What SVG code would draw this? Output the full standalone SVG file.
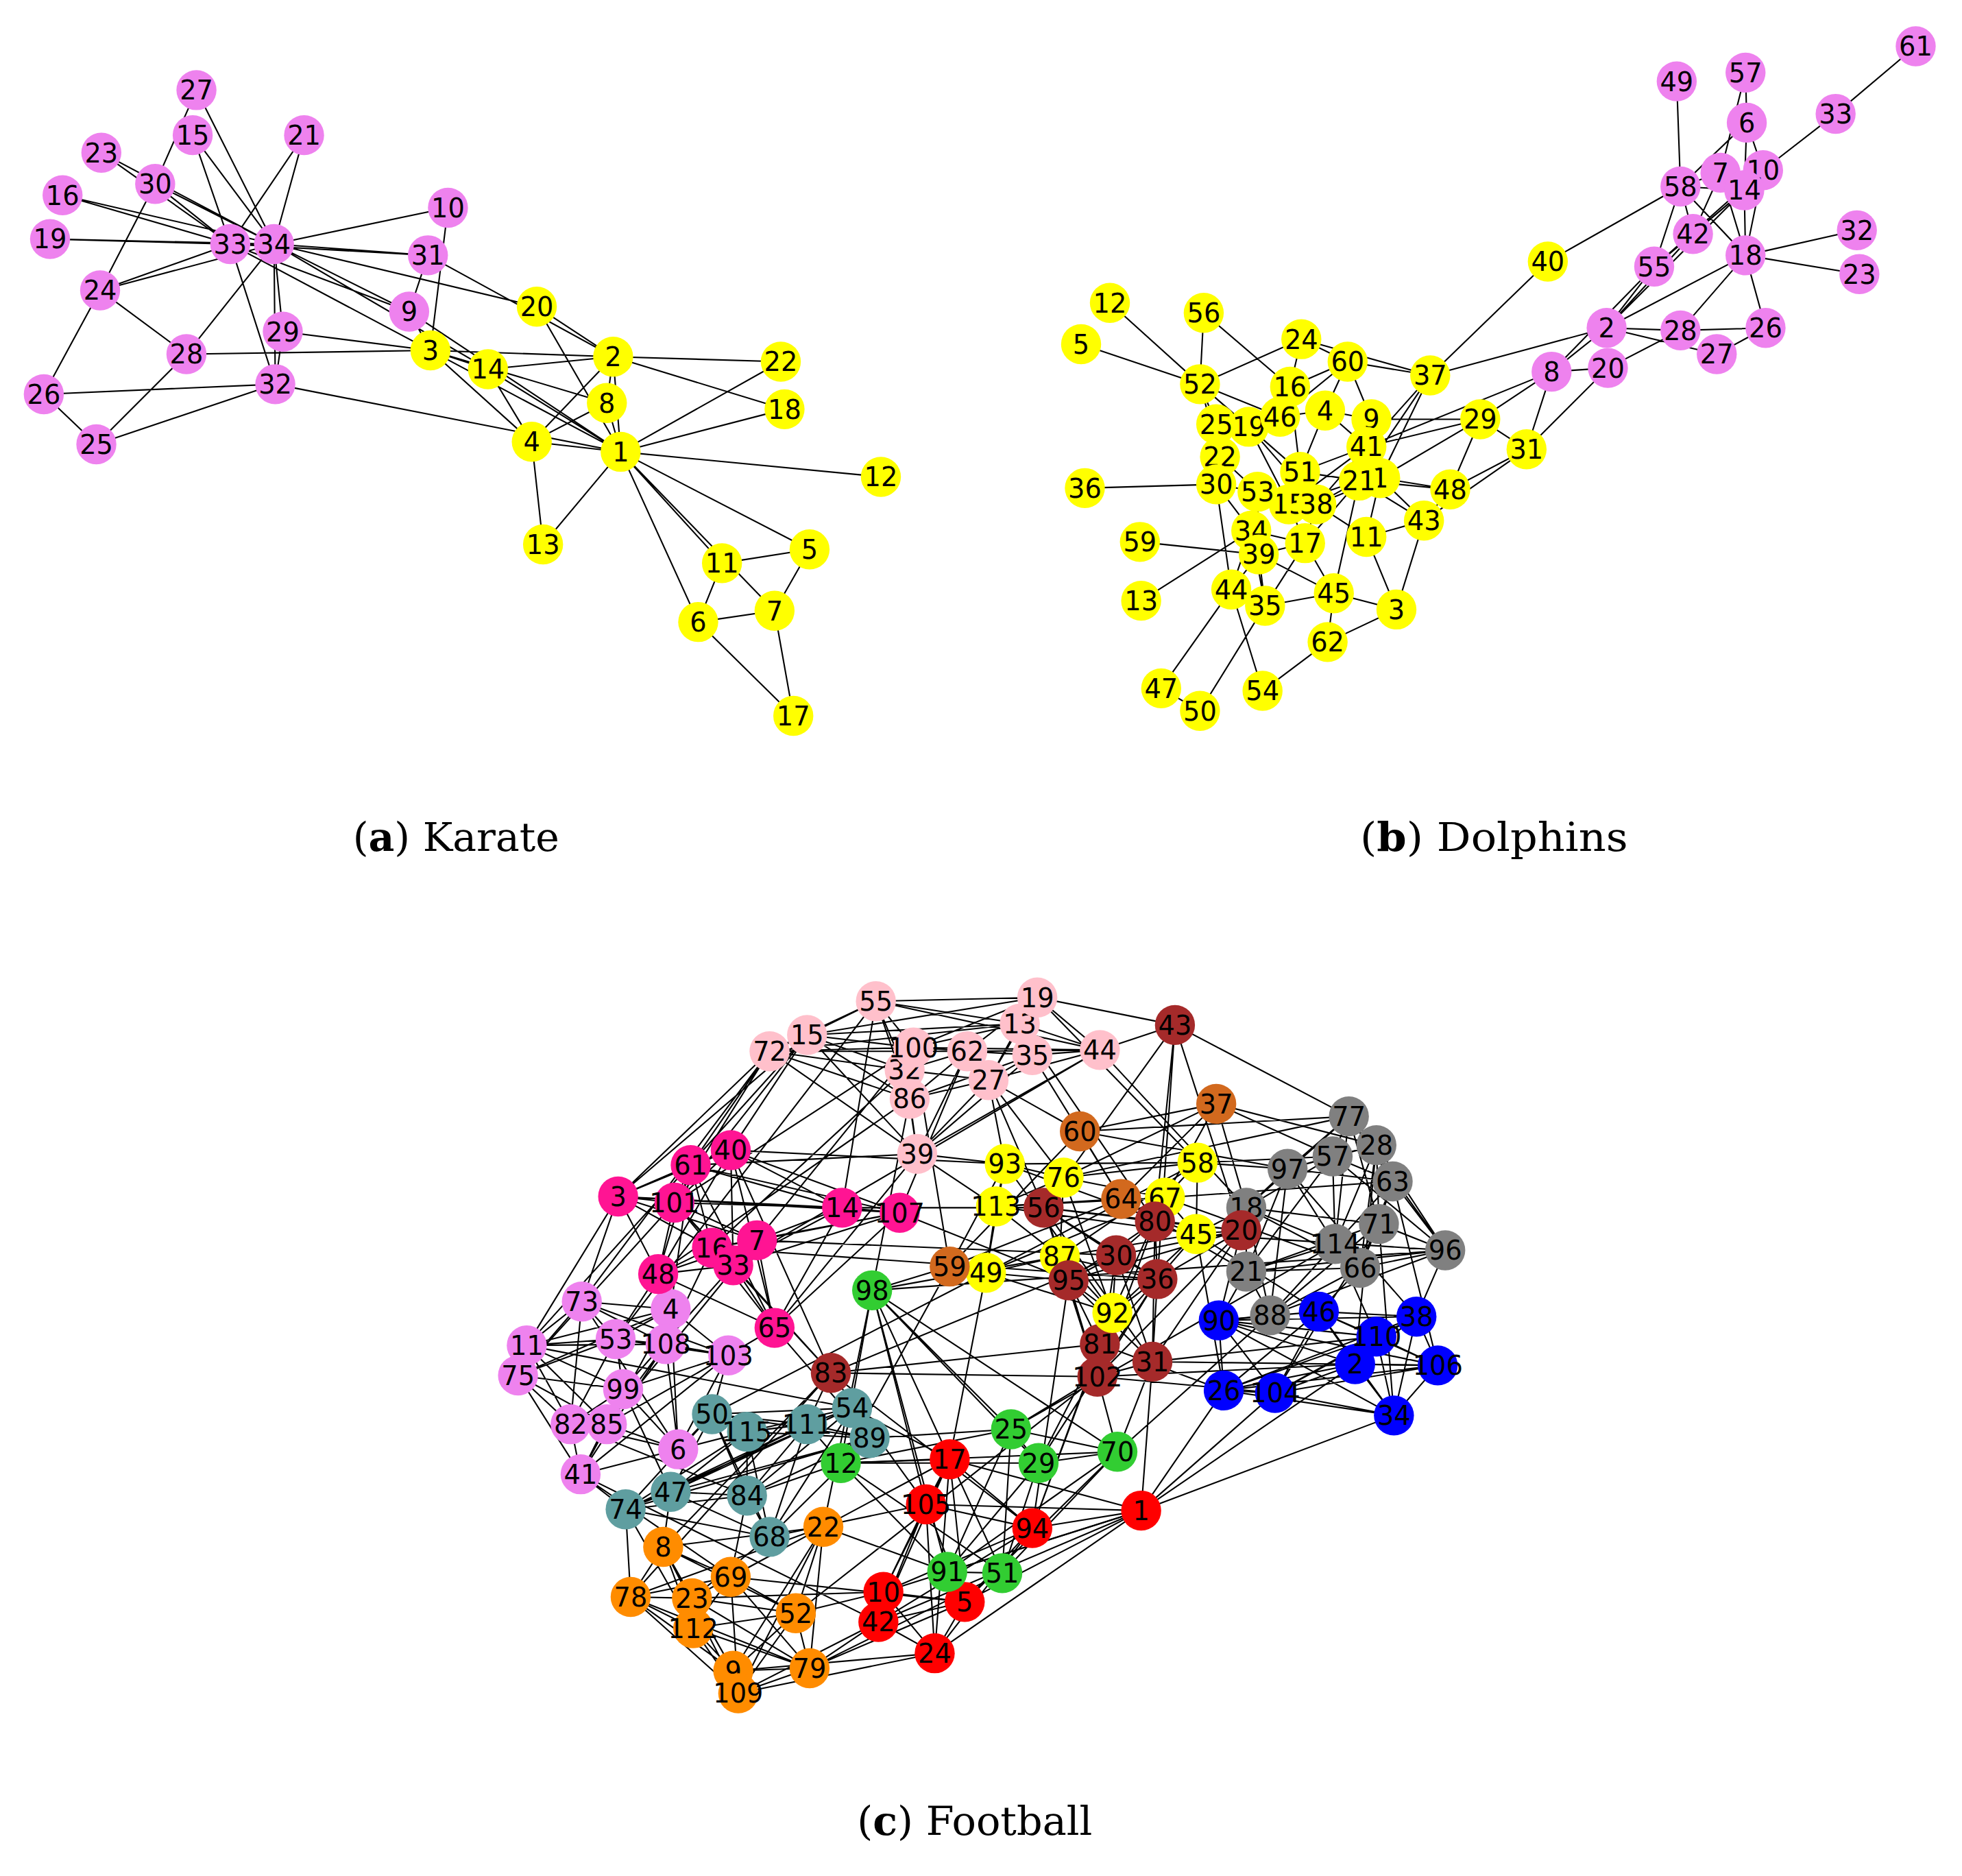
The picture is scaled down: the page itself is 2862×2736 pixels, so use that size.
<svg xmlns="http://www.w3.org/2000/svg" width="2862" height="2736" viewBox="0 0 2862 2736">
<style>
.e{fill:none;stroke:#000;stroke-width:1.15;stroke-linejoin:round}
.n text{font-family:"DejaVu Sans",Verdana,sans-serif;font-size:21px;text-anchor:middle;fill:#000}
.y circle{fill:#FFFF00}.v circle{fill:#EE82EE}.pk circle{fill:#FFC0CB}.br circle{fill:#A52A2A}.ch circle{fill:#D2691E}.gr circle{fill:#808080}.bl circle{fill:#0000FF}.gn circle{fill:#32CD32}.rd circle{fill:#FF0000}.or circle{fill:#FF8C00}.tl circle{fill:#5F9EA0}.dp circle{fill:#FF1493}
.cap{font-family:"DejaVu Serif","Liberation Serif",serif;font-size:32px;fill:#000}
</style>
<rect width="2862" height="2736" fill="#fff"/>
<g transform="scale(1.82526)">
<g id="connectors">
<path id="karate-edges" class="e" d="M496 361L490 285M496 361L344 280M496 361L425 353M496 361L647 439M496 361L558 497M496 361L619 488M496 361L485 322M496 361L327 249M496 361L577 450M496 361L704 381M496 361L434 435M496 361L390 295M496 361L627 327M496 361L429 245M496 361L624 289M496 361L220 307M490 285L344 280M490 285L425 353M490 285L485 322M490 285L390 295M490 285L627 327M490 285L429 245M490 285L624 289M490 285L342 204M344 280L425 353M344 280L485 322M344 280L327 249M344 280L358 166M344 280L390 295M344 280L149 283M344 280L226 265M344 280L184 195M425 353L485 322M425 353L434 435M425 353L390 295M647 439L619 488M647 439L577 450M558 497L619 488M558 497L577 450M558 497L634 572M619 488L634 572M327 249L342 204M327 249L184 195M327 249L219 195M358 166L219 195M390 295L219 195M154 108L184 195M154 108L219 195M50 156L184 195M50 156L219 195M40 191L184 195M40 191L219 195M429 245L219 195M243 108L184 195M243 108L219 195M81 122L184 195M81 122L219 195M80 232L35 315M80 232L149 283M80 232L124 147M80 232L184 195M80 232L219 195M77 355L35 315M77 355L149 283M77 355L220 307M35 315L220 307M157 72L124 147M157 72L219 195M149 283L219 195M226 265L220 307M226 265L219 195M124 147L184 195M124 147L219 195M342 204L184 195M342 204L219 195M220 307L184 195M220 307L219 195M184 195L219 195"/>
<path id="dolphins-edges" class="e" d="M1531 37L1467 91M1467 91L1409 136M1340 65L1343 149M1395 58L1396 98M1395 58L1375 138M1396 98L1394 152M1396 98L1409 136M1396 98L1343 149M1343 149L1375 138M1343 149L1394 152M1343 149L1353 187M1343 149L1322 213M1343 149L1395 204M1343 149L1237 209M1375 138L1353 187M1394 152L1353 187M1394 152L1322 213M1409 136L1322 213M1353 187L1322 213M1394 152L1395 204M1409 136L1395 204M1375 138L1395 204M1395 204L1484 184M1395 204L1486 219M1395 204L1411 262M1395 204L1343 264M1395 204L1284 262M1322 213L1284 262M1353 187L1284 262M1394 152L1284 262M1322 213L1240 297M1343 264L1411 262M1284 262L1343 264M1284 262L1372 283M1411 262L1372 283M1285 294L1343 264M1240 297L1285 294M1240 297L1284 262M1284 262L1143 300M1240 297L1183 335M1240 297L1220 359M1285 294L1220 359M1240 297L1092 357M1237 209L1143 300M1077 289L1143 300M1040 271L1143 300M1143 300L1092 357M1143 300L1086 384M1103 382L1143 300M1077 289L1031 309M1077 289L1023 333M1077 289L1059 328M1077 289L1096 335M1077 289L1040 271M1040 271L959 307M1040 271L1031 309M962 250L959 307M962 250L1031 309M887 242L959 307M864 275L959 307M959 307L972 339M959 307L1023 333M959 307L1039 377M959 307L975 365M1031 309L1023 333M1031 309L1039 377M1059 328L1023 333M1059 328L1096 335M1059 328L1092 357M1059 328L1039 377M1096 335L1092 357M1096 335L1183 335M1096 335L1086 384M1092 357L1086 384M1092 357L1052 403M1092 357L1030 403M1092 357L1039 377M1092 357L1183 335M998 341L1039 377M998 341L1030 403M998 341L1052 403M972 339L975 365M975 365L1005 393M975 365L972 387M972 387L867 390M972 387L1005 393M972 387L984 471M972 387L1000 424M1005 393L1030 403M1005 393L1006 443M1039 377L1086 384M1039 377L1052 403M1052 403L1086 384M1052 403L1103 382M1030 403L1086 384M1030 403L1043 434M1000 424L1043 434M1000 424L1006 443M1006 443L1043 434M1006 443L911 433M1006 443L1066 474M1006 443L1011 484M1006 443L984 471M1000 424L912 480M1000 424L984 471M984 471L928 550M984 471L1009 552M1011 484L959 568M1011 484L1066 474M1011 484L1043 434M1066 474L1043 434M1066 474L1116 487M1066 474L1061 513M1066 474L1086 384M1061 513L1116 487M1061 513L1009 552M928 550L959 568M1092 429L1052 403M1092 429L1103 382M1092 429L1138 416M1092 429L1116 487M1138 416L1159 391M1138 416L1103 382M1138 416L1086 384M1138 416L1116 487M1159 391L1103 382M1159 391L1086 384M1159 391L1220 359M1138 416L1220 359M1183 335L1103 382M1183 335L1159 391M1183 335L1220 359M1043 434L1086 384M1043 434L1052 403M1011 484L1000 424M998 341L1023 333M972 339L998 341"/>
<g id="football-edges">
<path class="e" d="M615 840L645 827L700 800L730 837L815 818L829 797L879 839L825 843L790 863L773 840L733 922L727 878L723 855ZM615 840L700 800L815 818L879 839L790 863L733 922L723 855L645 827L730 837L829 797L825 843L773 840L727 878ZM615 840L730 837L879 839L773 840L723 855L700 800L829 797L790 863L727 878L645 827L815 818L825 843L733 922ZM615 840L815 818L790 863L723 855L730 837L825 843L727 878L700 800L879 839L733 922L645 827L829 797L773 840Z"/>
<path class="e" d="M834 965L923 976L992 983L925 1022L921 1088L877 1100L854 1023L892 1003ZM834 965L992 983L921 1088L854 1023ZM923 976L925 1022L877 1100L892 1003ZM834 965L925 1022L854 1023L923 976L921 1088L892 1003L992 983L877 1100ZM834 965L921 1088M923 976L877 1100M992 983L854 1023M925 1022L892 1003M879 1074L877 1100M879 1074L854 1023M879 1074L925 1022M664 1097L877 1100"/>
<path class="e" d="M803 930L850 941L957 929L931 957L956 986L889 1049L847 1004L788 1017L796 964ZM803 930L957 929L956 986L847 1004L796 964L850 941L931 957L889 1049L788 1017ZM803 930L956 986L796 964L931 957L788 1017L957 929L847 1004L850 941L889 1049Z"/>
<path class="e" d="M1078 892L1100 915L1113 944L1155 999L1102 978L1087 1013L1015 1051L996 1016L996 965L1067 994L1029 934L1065 924ZM1078 892L1113 944L1102 978L1015 1051L996 965L1029 934ZM1100 915L1155 999L1087 1013L996 1016L1067 994L1065 924ZM1078 892L1155 999L1015 1051L1067 994ZM1100 915L1102 978L996 1016L1029 934ZM1113 944L1087 1013L996 965L1065 924ZM1078 892L1102 978L996 965ZM1100 915L1087 1013L1067 994ZM1113 944L1015 1051L1029 934ZM1155 999L996 1016L1065 924Z"/>
<path class="e" d="M974 1055L1054 1048L1100 1068L1132 1052L1149 1091L1114 1131L1083 1090L1019 1113L978 1111ZM974 1055L1100 1068L1149 1091L1083 1090L978 1111L1054 1048L1132 1052L1114 1131L1019 1113ZM974 1055L1132 1052L1083 1090ZM1054 1048L1149 1091L1019 1113ZM1100 1068L1114 1131L978 1111ZM974 1055L1149 1091L978 1111L1132 1052L1019 1113L1100 1068L1083 1090L1054 1048L1114 1131Z"/>
<path class="e" d="M697 1031L808 1142L893 1160L830 1169L801 1257L757 1256L672 1169ZM697 1031L893 1160L801 1257L672 1169L808 1142L830 1169L757 1256ZM697 1031L830 1169L672 1169L893 1160L757 1256L808 1142L801 1257Z"/>
<path class="e" d="M759 1166L912 1207L825 1221L771 1280L747 1321L702 1296L706 1272L740 1202ZM759 1166L825 1221L747 1321L706 1272ZM912 1207L771 1280L702 1296L740 1202ZM759 1166L771 1280L706 1272L912 1207L747 1321L740 1202L825 1221L702 1296ZM759 1166L747 1321M912 1207L702 1296M825 1221L706 1272M771 1280L740 1202"/>
<path class="e" d="M658 1220L636 1289L647 1333L590 1353L586 1335L554 1301L504 1276L530 1236L553 1277L584 1260ZM658 1220L647 1333L586 1335L504 1276L553 1277ZM636 1289L590 1353L554 1301L530 1236L584 1260ZM658 1220L590 1353L504 1276L584 1260L647 1333L554 1301L553 1277L636 1289L586 1335L530 1236ZM658 1220L586 1335L553 1277L647 1333L504 1276ZM636 1289L554 1301L584 1260L590 1353L530 1236Z"/>
<path class="e" d="M569 1130L597 1144L645 1138L681 1125L695 1149L615 1228L597 1195L500 1206L536 1192ZM569 1130L645 1138L695 1149L597 1195L536 1192L597 1144L681 1125L615 1228L500 1206ZM569 1130L681 1125L597 1195ZM597 1144L695 1149L500 1206ZM645 1138L615 1228L536 1192ZM569 1130L695 1149L536 1192L681 1125L500 1206L645 1138L597 1195L597 1144L615 1228Z"/>
<path class="e" d="M465 1040L536 1046L532 1074L582 1083L542 1158L464 1178L485 1138L498 1110L456 1138L414 1099L421 1075L492 1070ZM465 1040L532 1074L542 1158L485 1138L456 1138L421 1075ZM536 1046L582 1083L464 1178L498 1110L414 1099L492 1070ZM465 1040L582 1083L485 1138L414 1099ZM536 1046L542 1158L498 1110L421 1075ZM532 1074L464 1178L456 1138L492 1070ZM465 1040L542 1158L456 1138ZM536 1046L464 1178L414 1099ZM532 1074L485 1138L421 1075ZM582 1083L498 1110L492 1070Z"/>
<path class="e" d="M494 956L552 931L584 919L673 965L719 969L619 1061L586 1011L605 991L569 997L526 1018L539 961ZM494 956L584 919L719 969L586 1011L569 997L539 961L552 931L673 965L619 1061L605 991L526 1018ZM494 956L673 965L586 1011L526 1018L552 931L719 969L605 991L539 961L584 919L619 1061L569 997ZM494 956L719 969L569 997L552 931L619 1061L526 1018L584 919L586 1011L539 961L673 965L605 991Z"/>
<path class="e" d="M615 840L494 956M615 840L552 931M615 840L539 961M645 827L584 919M645 827L539 961M700 800L673 965M730 837L605 991M723 855L569 997M727 878L526 1018M733 922L619 1061M773 840L719 969M879 839L586 1011M615 840L465 1040M645 827L421 1075M700 800L492 1070M733 922L803 930M733 922L796 964M790 863L834 965M879 839L939 819M829 797L939 819M815 818L923 976M727 878L697 1031M730 837L759 1012M773 840L850 941M790 863L863 904M825 843L896 958M879 839L996 965M829 797L957 929M939 819L834 965M939 819L923 976M939 819L925 1022M939 819L992 983M877 1100L1083 1090M877 1100L636 1289M921 1088L912 1207M879 1074L889 1049M879 1074L825 1221M889 1049L825 1221M879 1074L664 1097M664 1097L586 1011M664 1097L584 919M664 1097L539 961M664 1097L504 1276M664 1097L530 1236M664 1097L825 1221M664 1097L892 1003M796 964L896 958M803 930L759 1012M850 941L1078 892M788 1017L569 1130M957 929L1065 924M931 957L1087 1013M956 986L1054 1048M956 986L978 1111M889 1049L892 1003M850 941L972 882M863 904L896 958M863 904L759 1012M863 904L972 882M896 958L972 882M759 1012L896 958M863 904L1029 934M896 958L996 1016M972 882L931 957M759 1012L672 1169M759 1012L697 1031M1100 915L1083 1090M1029 934L1132 1052M1102 978L1019 1113M1155 999L697 1031M1067 994L808 1142M1083 1090L912 1207M1114 1131L912 1207M978 1111L912 1207M1019 1113L912 1207M974 1055L992 983M1149 1091L921 1088M893 1160L771 1280M757 1256L912 1207M801 1257L647 1333M672 1169L597 1195M702 1296L464 1178M747 1321L586 1335M706 1272L553 1277M500 1206L554 1301M465 1040L494 956M421 1075L494 956M414 1099L539 961M492 1070L526 1018M536 1046L552 931M532 1074L569 997M582 1083L619 1061M498 1110L586 1011M456 1138L597 1195M485 1138L605 991M542 1158L569 1130M464 1178L584 1260M421 1075L681 1125M673 965L834 965M719 969L854 1023M605 991L892 1003M569 997L925 1022M619 1061L695 1149M526 1018L532 1074M584 919L803 930M552 931L733 922M539 961L730 837M494 956L645 827M697 1031L847 1004M697 1031L740 1202M697 1031L658 1220M672 1169L645 1138M672 1169L759 1166M808 1142L877 1100M830 1169L879 1074M893 1160L921 1088M893 1160L877 1100M893 1160L1015 1051M830 1169L925 1022M825 1221L854 1023M759 1166L788 1017M740 1202L664 1097M771 1280L584 1260M706 1272L636 1289M702 1296L647 1333M747 1321L590 1353M647 1333L771 1280M590 1353L702 1296M658 1220L759 1166M658 1220L757 1256M615 1228L740 1202M681 1125L759 1166M695 1149L808 1142M645 1138L664 1097M569 1130L582 1083M597 1144L542 1158M536 1192L498 1110M500 1206L464 1178M530 1236L536 1192M504 1276L500 1206M553 1277L615 1228M584 1260L597 1195M796 964L834 965M803 930L790 863M788 1017L854 1023M847 1004L925 1022M889 1049L925 1022M956 986L996 965M957 929L1029 934M931 957L1113 944M1065 924L972 882M1015 1051L974 1055M996 1016L974 1055M996 965L972 882M1155 999L1132 1052M1113 944L1149 1091M1087 1013L1054 1048M1067 994L1100 1068M1102 978L1114 1131M1078 892L939 819M1100 915L972 882M992 983L956 986M834 965L850 941M923 976L931 957M854 1023L889 1049M925 1022L956 986M921 1088L1100 1068M877 1100L1019 1113M879 1074L978 1111M1078 892L863 904M1155 999L956 986"/>
</g>
</g>
<g id="karate-nodes">
<g id="k1" class="n y" transform="translate(496 361)"><circle r="16"/><text y="7.6">1</text></g>
<g id="k2" class="n y" transform="translate(490 285)"><circle r="16"/><text y="7.6">2</text></g>
<g id="k3" class="n y" transform="translate(344 280)"><circle r="16"/><text y="7.6">3</text></g>
<g id="k4" class="n y" transform="translate(425 353)"><circle r="16"/><text y="7.6">4</text></g>
<g id="k5" class="n y" transform="translate(647 439)"><circle r="16"/><text y="7.6">5</text></g>
<g id="k6" class="n y" transform="translate(558 497)"><circle r="16"/><text y="7.6">6</text></g>
<g id="k7" class="n y" transform="translate(619 488)"><circle r="16"/><text y="7.6">7</text></g>
<g id="k8" class="n y" transform="translate(485 322)"><circle r="16"/><text y="7.6">8</text></g>
<g id="k9" class="n v" transform="translate(327 249)"><circle r="16"/><text y="7.6">9</text></g>
<g id="k10" class="n v" transform="translate(358 166)"><circle r="16"/><text y="7.6">10</text></g>
<g id="k11" class="n y" transform="translate(577 450)"><circle r="16"/><text y="7.6">11</text></g>
<g id="k12" class="n y" transform="translate(704 381)"><circle r="16"/><text y="7.6">12</text></g>
<g id="k13" class="n y" transform="translate(434 435)"><circle r="16"/><text y="7.6">13</text></g>
<g id="k14" class="n y" transform="translate(390 295)"><circle r="16"/><text y="7.6">14</text></g>
<g id="k15" class="n v" transform="translate(154 108)"><circle r="16"/><text y="7.6">15</text></g>
<g id="k16" class="n v" transform="translate(50 156)"><circle r="16"/><text y="7.6">16</text></g>
<g id="k17" class="n y" transform="translate(634 572)"><circle r="16"/><text y="7.6">17</text></g>
<g id="k18" class="n y" transform="translate(627 327)"><circle r="16"/><text y="7.6">18</text></g>
<g id="k19" class="n v" transform="translate(40 191)"><circle r="16"/><text y="7.6">19</text></g>
<g id="k20" class="n y" transform="translate(429 245)"><circle r="16"/><text y="7.6">20</text></g>
<g id="k21" class="n v" transform="translate(243 108)"><circle r="16"/><text y="7.6">21</text></g>
<g id="k22" class="n y" transform="translate(624 289)"><circle r="16"/><text y="7.6">22</text></g>
<g id="k23" class="n v" transform="translate(81 122)"><circle r="16"/><text y="7.6">23</text></g>
<g id="k24" class="n v" transform="translate(80 232)"><circle r="16"/><text y="7.6">24</text></g>
<g id="k25" class="n v" transform="translate(77 355)"><circle r="16"/><text y="7.6">25</text></g>
<g id="k26" class="n v" transform="translate(35 315)"><circle r="16"/><text y="7.6">26</text></g>
<g id="k27" class="n v" transform="translate(157 72)"><circle r="16"/><text y="7.6">27</text></g>
<g id="k28" class="n v" transform="translate(149 283)"><circle r="16"/><text y="7.6">28</text></g>
<g id="k29" class="n v" transform="translate(226 265)"><circle r="16"/><text y="7.6">29</text></g>
<g id="k30" class="n v" transform="translate(124 147)"><circle r="16"/><text y="7.6">30</text></g>
<g id="k31" class="n v" transform="translate(342 204)"><circle r="16"/><text y="7.6">31</text></g>
<g id="k32" class="n v" transform="translate(220 307)"><circle r="16"/><text y="7.6">32</text></g>
<g id="k33" class="n v" transform="translate(184 195)"><circle r="16"/><text y="7.6">33</text></g>
<g id="k34" class="n v" transform="translate(219 195)"><circle r="16"/><text y="7.6">34</text></g>
</g>
<g id="dolphins-nodes">
<g id="d1" class="n y" transform="translate(1103 382)"><circle r="16"/><text y="7.6">1</text></g>
<g id="d2" class="n v" transform="translate(1284 262)"><circle r="16"/><text y="7.6">2</text></g>
<g id="d3" class="n y" transform="translate(1116 487)"><circle r="16"/><text y="7.6">3</text></g>
<g id="d4" class="n y" transform="translate(1059 328)"><circle r="16"/><text y="7.6">4</text></g>
<g id="d5" class="n y" transform="translate(864 275)"><circle r="16"/><text y="7.6">5</text></g>
<g id="d6" class="n v" transform="translate(1396 98)"><circle r="16"/><text y="7.6">6</text></g>
<g id="d7" class="n v" transform="translate(1375 138)"><circle r="16"/><text y="7.6">7</text></g>
<g id="d8" class="n v" transform="translate(1240 297)"><circle r="16"/><text y="7.6">8</text></g>
<g id="d9" class="n y" transform="translate(1096 335)"><circle r="16"/><text y="7.6">9</text></g>
<g id="d10" class="n v" transform="translate(1409 136)"><circle r="16"/><text y="7.6">10</text></g>
<g id="d11" class="n y" transform="translate(1092 429)"><circle r="16"/><text y="7.6">11</text></g>
<g id="d12" class="n y" transform="translate(887 242)"><circle r="16"/><text y="7.6">12</text></g>
<g id="d13" class="n y" transform="translate(912 480)"><circle r="16"/><text y="7.6">13</text></g>
<g id="d14" class="n v" transform="translate(1394 152)"><circle r="16"/><text y="7.6">14</text></g>
<g id="d15" class="n y" transform="translate(1030 403)"><circle r="16"/><text y="7.6">15</text></g>
<g id="d16" class="n y" transform="translate(1031 309)"><circle r="16"/><text y="7.6">16</text></g>
<g id="d17" class="n y" transform="translate(1043 434)"><circle r="16"/><text y="7.6">17</text></g>
<g id="d18" class="n v" transform="translate(1395 204)"><circle r="16"/><text y="7.6">18</text></g>
<g id="d19" class="n y" transform="translate(998 341)"><circle r="16"/><text y="7.6">19</text></g>
<g id="d20" class="n v" transform="translate(1285 294)"><circle r="16"/><text y="7.6">20</text></g>
<g id="d21" class="n y" transform="translate(1086 384)"><circle r="16"/><text y="7.6">21</text></g>
<g id="d22" class="n y" transform="translate(975 365)"><circle r="16"/><text y="7.6">22</text></g>
<g id="d23" class="n v" transform="translate(1486 219)"><circle r="16"/><text y="7.6">23</text></g>
<g id="d24" class="n y" transform="translate(1040 271)"><circle r="16"/><text y="7.6">24</text></g>
<g id="d25" class="n y" transform="translate(972 339)"><circle r="16"/><text y="7.6">25</text></g>
<g id="d26" class="n v" transform="translate(1411 262)"><circle r="16"/><text y="7.6">26</text></g>
<g id="d27" class="n v" transform="translate(1372 283)"><circle r="16"/><text y="7.6">27</text></g>
<g id="d28" class="n v" transform="translate(1343 264)"><circle r="16"/><text y="7.6">28</text></g>
<g id="d29" class="n y" transform="translate(1183 335)"><circle r="16"/><text y="7.6">29</text></g>
<g id="d30" class="n y" transform="translate(972 387)"><circle r="16"/><text y="7.6">30</text></g>
<g id="d31" class="n y" transform="translate(1220 359)"><circle r="16"/><text y="7.6">31</text></g>
<g id="d32" class="n v" transform="translate(1484 184)"><circle r="16"/><text y="7.6">32</text></g>
<g id="d33" class="n v" transform="translate(1467 91)"><circle r="16"/><text y="7.6">33</text></g>
<g id="d34" class="n y" transform="translate(1000 424)"><circle r="16"/><text y="7.6">34</text></g>
<g id="d35" class="n y" transform="translate(1011 484)"><circle r="16"/><text y="7.6">35</text></g>
<g id="d36" class="n y" transform="translate(867 390)"><circle r="16"/><text y="7.6">36</text></g>
<g id="d37" class="n y" transform="translate(1143 300)"><circle r="16"/><text y="7.6">37</text></g>
<g id="d38" class="n y" transform="translate(1052 403)"><circle r="16"/><text y="7.6">38</text></g>
<g id="d39" class="n y" transform="translate(1006 443)"><circle r="16"/><text y="7.6">39</text></g>
<g id="d40" class="n y" transform="translate(1237 209)"><circle r="16"/><text y="7.6">40</text></g>
<g id="d41" class="n y" transform="translate(1092 357)"><circle r="16"/><text y="7.6">41</text></g>
<g id="d42" class="n v" transform="translate(1353 187)"><circle r="16"/><text y="7.6">42</text></g>
<g id="d43" class="n y" transform="translate(1138 416)"><circle r="16"/><text y="7.6">43</text></g>
<g id="d44" class="n y" transform="translate(984 471)"><circle r="16"/><text y="7.6">44</text></g>
<g id="d45" class="n y" transform="translate(1066 474)"><circle r="16"/><text y="7.6">45</text></g>
<g id="d46" class="n y" transform="translate(1023 333)"><circle r="16"/><text y="7.6">46</text></g>
<g id="d47" class="n y" transform="translate(928 550)"><circle r="16"/><text y="7.6">47</text></g>
<g id="d48" class="n y" transform="translate(1159 391)"><circle r="16"/><text y="7.6">48</text></g>
<g id="d49" class="n v" transform="translate(1340 65)"><circle r="16"/><text y="7.6">49</text></g>
<g id="d50" class="n y" transform="translate(959 568)"><circle r="16"/><text y="7.6">50</text></g>
<g id="d51" class="n y" transform="translate(1039 377)"><circle r="16"/><text y="7.6">51</text></g>
<g id="d52" class="n y" transform="translate(959 307)"><circle r="16"/><text y="7.6">52</text></g>
<g id="d53" class="n y" transform="translate(1005 393)"><circle r="16"/><text y="7.6">53</text></g>
<g id="d54" class="n y" transform="translate(1009 552)"><circle r="16"/><text y="7.6">54</text></g>
<g id="d55" class="n v" transform="translate(1322 213)"><circle r="16"/><text y="7.6">55</text></g>
<g id="d56" class="n y" transform="translate(962 250)"><circle r="16"/><text y="7.6">56</text></g>
<g id="d57" class="n v" transform="translate(1395 58)"><circle r="16"/><text y="7.6">57</text></g>
<g id="d58" class="n v" transform="translate(1343 149)"><circle r="16"/><text y="7.6">58</text></g>
<g id="d59" class="n y" transform="translate(911 433)"><circle r="16"/><text y="7.6">59</text></g>
<g id="d60" class="n y" transform="translate(1077 289)"><circle r="16"/><text y="7.6">60</text></g>
<g id="d61" class="n v" transform="translate(1531 37)"><circle r="16"/><text y="7.6">61</text></g>
<g id="d62" class="n y" transform="translate(1061 513)"><circle r="16"/><text y="7.6">62</text></g>
</g>
<g id="football-nodes">
<g id="f1" class="n rd" transform="translate(912 1207)"><circle r="16"/><text y="7.6">1</text></g>
<g id="f2" class="n bl" transform="translate(1083 1090)"><circle r="16"/><text y="7.6">2</text></g>
<g id="f3" class="n dp" transform="translate(494 956)"><circle r="16"/><text y="7.6">3</text></g>
<g id="f4" class="n v" transform="translate(536 1046)"><circle r="16"/><text y="7.6">4</text></g>
<g id="f5" class="n rd" transform="translate(771 1280)"><circle r="16"/><text y="7.6">5</text></g>
<g id="f6" class="n v" transform="translate(542 1158)"><circle r="16"/><text y="7.6">6</text></g>
<g id="f7" class="n dp" transform="translate(605 991)"><circle r="16"/><text y="7.6">7</text></g>
<g id="f8" class="n or" transform="translate(530 1236)"><circle r="16"/><text y="7.6">8</text></g>
<g id="f9" class="n or" transform="translate(586 1335)"><circle r="16"/><text y="7.6">9</text></g>
<g id="f10" class="n rd" transform="translate(706 1272)"><circle r="16"/><text y="7.6">10</text></g>
<g id="f11" class="n v" transform="translate(421 1075)"><circle r="16"/><text y="7.6">11</text></g>
<g id="f12" class="n gn" transform="translate(672 1169)"><circle r="16"/><text y="7.6">12</text></g>
<g id="f13" class="n pk" transform="translate(815 818)"><circle r="16"/><text y="7.6">13</text></g>
<g id="f14" class="n dp" transform="translate(673 965)"><circle r="16"/><text y="7.6">14</text></g>
<g id="f15" class="n pk" transform="translate(645 827)"><circle r="16"/><text y="7.6">15</text></g>
<g id="f16" class="n dp" transform="translate(569 997)"><circle r="16"/><text y="7.6">16</text></g>
<g id="f17" class="n rd" transform="translate(759 1166)"><circle r="16"/><text y="7.6">17</text></g>
<g id="f18" class="n gr" transform="translate(996 965)"><circle r="16"/><text y="7.6">18</text></g>
<g id="f19" class="n pk" transform="translate(829 797)"><circle r="16"/><text y="7.6">19</text></g>
<g id="f20" class="n br" transform="translate(992 983)"><circle r="16"/><text y="7.6">20</text></g>
<g id="f21" class="n gr" transform="translate(996 1016)"><circle r="16"/><text y="7.6">21</text></g>
<g id="f22" class="n or" transform="translate(658 1220)"><circle r="16"/><text y="7.6">22</text></g>
<g id="f23" class="n or" transform="translate(553 1277)"><circle r="16"/><text y="7.6">23</text></g>
<g id="f24" class="n rd" transform="translate(747 1321)"><circle r="16"/><text y="7.6">24</text></g>
<g id="f25" class="n gn" transform="translate(808 1142)"><circle r="16"/><text y="7.6">25</text></g>
<g id="f26" class="n bl" transform="translate(978 1111)"><circle r="16"/><text y="7.6">26</text></g>
<g id="f27" class="n pk" transform="translate(790 863)"><circle r="16"/><text y="7.6">27</text></g>
<g id="f28" class="n gr" transform="translate(1100 915)"><circle r="16"/><text y="7.6">28</text></g>
<g id="f29" class="n gn" transform="translate(830 1169)"><circle r="16"/><text y="7.6">29</text></g>
<g id="f30" class="n br" transform="translate(892 1003)"><circle r="16"/><text y="7.6">30</text></g>
<g id="f31" class="n br" transform="translate(921 1088)"><circle r="16"/><text y="7.6">31</text></g>
<g id="f32" class="n pk" transform="translate(723 855)"><circle r="16"/><text y="7.6">32</text></g>
<g id="f33" class="n dp" transform="translate(586 1011)"><circle r="16"/><text y="7.6">33</text></g>
<g id="f34" class="n bl" transform="translate(1114 1131)"><circle r="16"/><text y="7.6">34</text></g>
<g id="f35" class="n pk" transform="translate(825 843)"><circle r="16"/><text y="7.6">35</text></g>
<g id="f36" class="n br" transform="translate(925 1022)"><circle r="16"/><text y="7.6">36</text></g>
<g id="f37" class="n ch" transform="translate(972 882)"><circle r="16"/><text y="7.6">37</text></g>
<g id="f38" class="n bl" transform="translate(1132 1052)"><circle r="16"/><text y="7.6">38</text></g>
<g id="f39" class="n pk" transform="translate(733 922)"><circle r="16"/><text y="7.6">39</text></g>
<g id="f40" class="n dp" transform="translate(584 919)"><circle r="16"/><text y="7.6">40</text></g>
<g id="f41" class="n v" transform="translate(464 1178)"><circle r="16"/><text y="7.6">41</text></g>
<g id="f42" class="n rd" transform="translate(702 1296)"><circle r="16"/><text y="7.6">42</text></g>
<g id="f43" class="n br" transform="translate(939 819)"><circle r="16"/><text y="7.6">43</text></g>
<g id="f44" class="n pk" transform="translate(879 839)"><circle r="16"/><text y="7.6">44</text></g>
<g id="f45" class="n y" transform="translate(956 986)"><circle r="16"/><text y="7.6">45</text></g>
<g id="f46" class="n bl" transform="translate(1054 1048)"><circle r="16"/><text y="7.6">46</text></g>
<g id="f47" class="n tl" transform="translate(536 1192)"><circle r="16"/><text y="7.6">47</text></g>
<g id="f48" class="n dp" transform="translate(526 1018)"><circle r="16"/><text y="7.6">48</text></g>
<g id="f49" class="n y" transform="translate(788 1017)"><circle r="16"/><text y="7.6">49</text></g>
<g id="f50" class="n tl" transform="translate(569 1130)"><circle r="16"/><text y="7.6">50</text></g>
<g id="f51" class="n gn" transform="translate(801 1257)"><circle r="16"/><text y="7.6">51</text></g>
<g id="f52" class="n or" transform="translate(636 1289)"><circle r="16"/><text y="7.6">52</text></g>
<g id="f53" class="n v" transform="translate(492 1070)"><circle r="16"/><text y="7.6">53</text></g>
<g id="f54" class="n tl" transform="translate(681 1125)"><circle r="16"/><text y="7.6">54</text></g>
<g id="f55" class="n pk" transform="translate(700 800)"><circle r="16"/><text y="7.6">55</text></g>
<g id="f56" class="n br" transform="translate(834 965)"><circle r="16"/><text y="7.6">56</text></g>
<g id="f57" class="n gr" transform="translate(1065 924)"><circle r="16"/><text y="7.6">57</text></g>
<g id="f58" class="n y" transform="translate(957 929)"><circle r="16"/><text y="7.6">58</text></g>
<g id="f59" class="n ch" transform="translate(759 1012)"><circle r="16"/><text y="7.6">59</text></g>
<g id="f60" class="n ch" transform="translate(863 904)"><circle r="16"/><text y="7.6">60</text></g>
<g id="f61" class="n dp" transform="translate(552 931)"><circle r="16"/><text y="7.6">61</text></g>
<g id="f62" class="n pk" transform="translate(773 840)"><circle r="16"/><text y="7.6">62</text></g>
<g id="f63" class="n gr" transform="translate(1113 944)"><circle r="16"/><text y="7.6">63</text></g>
<g id="f64" class="n ch" transform="translate(896 958)"><circle r="16"/><text y="7.6">64</text></g>
<g id="f65" class="n dp" transform="translate(619 1061)"><circle r="16"/><text y="7.6">65</text></g>
<g id="f66" class="n gr" transform="translate(1087 1013)"><circle r="16"/><text y="7.6">66</text></g>
<g id="f67" class="n y" transform="translate(931 957)"><circle r="16"/><text y="7.6">67</text></g>
<g id="f68" class="n tl" transform="translate(615 1228)"><circle r="16"/><text y="7.6">68</text></g>
<g id="f69" class="n or" transform="translate(584 1260)"><circle r="16"/><text y="7.6">69</text></g>
<g id="f70" class="n gn" transform="translate(893 1160)"><circle r="16"/><text y="7.6">70</text></g>
<g id="f71" class="n gr" transform="translate(1102 978)"><circle r="16"/><text y="7.6">71</text></g>
<g id="f72" class="n pk" transform="translate(615 840)"><circle r="16"/><text y="7.6">72</text></g>
<g id="f73" class="n v" transform="translate(465 1040)"><circle r="16"/><text y="7.6">73</text></g>
<g id="f74" class="n tl" transform="translate(500 1206)"><circle r="16"/><text y="7.6">74</text></g>
<g id="f75" class="n v" transform="translate(414 1099)"><circle r="16"/><text y="7.6">75</text></g>
<g id="f76" class="n y" transform="translate(850 941)"><circle r="16"/><text y="7.6">76</text></g>
<g id="f77" class="n gr" transform="translate(1078 892)"><circle r="16"/><text y="7.6">77</text></g>
<g id="f78" class="n or" transform="translate(504 1276)"><circle r="16"/><text y="7.6">78</text></g>
<g id="f79" class="n or" transform="translate(647 1333)"><circle r="16"/><text y="7.6">79</text></g>
<g id="f80" class="n br" transform="translate(923 976)"><circle r="16"/><text y="7.6">80</text></g>
<g id="f81" class="n br" transform="translate(879 1074)"><circle r="16"/><text y="7.6">81</text></g>
<g id="f82" class="n v" transform="translate(456 1138)"><circle r="16"/><text y="7.6">82</text></g>
<g id="f83" class="n br" transform="translate(664 1097)"><circle r="16"/><text y="7.6">83</text></g>
<g id="f84" class="n tl" transform="translate(597 1195)"><circle r="16"/><text y="7.6">84</text></g>
<g id="f85" class="n v" transform="translate(485 1138)"><circle r="16"/><text y="7.6">85</text></g>
<g id="f86" class="n pk" transform="translate(727 878)"><circle r="16"/><text y="7.6">86</text></g>
<g id="f87" class="n y" transform="translate(847 1004)"><circle r="16"/><text y="7.6">87</text></g>
<g id="f88" class="n gr" transform="translate(1015 1051)"><circle r="16"/><text y="7.6">88</text></g>
<g id="f89" class="n tl" transform="translate(695 1149)"><circle r="16"/><text y="7.6">89</text></g>
<g id="f90" class="n bl" transform="translate(974 1055)"><circle r="16"/><text y="7.6">90</text></g>
<g id="f91" class="n gn" transform="translate(757 1256)"><circle r="16"/><text y="7.6">91</text></g>
<g id="f92" class="n y" transform="translate(889 1049)"><circle r="16"/><text y="7.6">92</text></g>
<g id="f93" class="n y" transform="translate(803 930)"><circle r="16"/><text y="7.6">93</text></g>
<g id="f94" class="n rd" transform="translate(825 1221)"><circle r="16"/><text y="7.6">94</text></g>
<g id="f95" class="n br" transform="translate(854 1023)"><circle r="16"/><text y="7.6">95</text></g>
<g id="f96" class="n gr" transform="translate(1155 999)"><circle r="16"/><text y="7.6">96</text></g>
<g id="f97" class="n gr" transform="translate(1029 934)"><circle r="16"/><text y="7.6">97</text></g>
<g id="f98" class="n gn" transform="translate(697 1031)"><circle r="16"/><text y="7.6">98</text></g>
<g id="f99" class="n v" transform="translate(498 1110)"><circle r="16"/><text y="7.6">99</text></g>
<g id="f100" class="n pk" transform="translate(730 837)"><circle r="16"/><text y="7.6">100</text></g>
<g id="f101" class="n dp" transform="translate(539 961)"><circle r="16"/><text y="7.6">101</text></g>
<g id="f102" class="n br" transform="translate(877 1100)"><circle r="16"/><text y="7.6">102</text></g>
<g id="f103" class="n v" transform="translate(582 1083)"><circle r="16"/><text y="7.6">103</text></g>
<g id="f104" class="n bl" transform="translate(1019 1113)"><circle r="16"/><text y="7.6">104</text></g>
<g id="f105" class="n rd" transform="translate(740 1202)"><circle r="16"/><text y="7.6">105</text></g>
<g id="f106" class="n bl" transform="translate(1149 1091)"><circle r="16"/><text y="7.6">106</text></g>
<g id="f107" class="n dp" transform="translate(719 969)"><circle r="16"/><text y="7.6">107</text></g>
<g id="f108" class="n v" transform="translate(532 1074)"><circle r="16"/><text y="7.6">108</text></g>
<g id="f109" class="n or" transform="translate(590 1353)"><circle r="16"/><text y="7.6">109</text></g>
<g id="f110" class="n bl" transform="translate(1100 1068)"><circle r="16"/><text y="7.6">110</text></g>
<g id="f111" class="n tl" transform="translate(645 1138)"><circle r="16"/><text y="7.6">111</text></g>
<g id="f112" class="n or" transform="translate(554 1301)"><circle r="16"/><text y="7.6">112</text></g>
<g id="f113" class="n y" transform="translate(796 964)"><circle r="16"/><text y="7.6">113</text></g>
<g id="f114" class="n gr" transform="translate(1067 994)"><circle r="16"/><text y="7.6">114</text></g>
<g id="f115" class="n tl" transform="translate(597 1144)"><circle r="16"/><text y="7.6">115</text></g>
</g>
<g id="captions">
<text class="cap" x="282" y="680" textLength="165" lengthAdjust="spacingAndGlyphs">(<tspan font-weight="bold">a</tspan>) Karate</text>
<text class="cap" x="1087" y="680" textLength="214" lengthAdjust="spacingAndGlyphs">(<tspan font-weight="bold">b</tspan>) Dolphins</text>
<text class="cap" x="685" y="1466" textLength="188" lengthAdjust="spacingAndGlyphs">(<tspan font-weight="bold">c</tspan>) Football</text>
</g>
</g>
</svg>
